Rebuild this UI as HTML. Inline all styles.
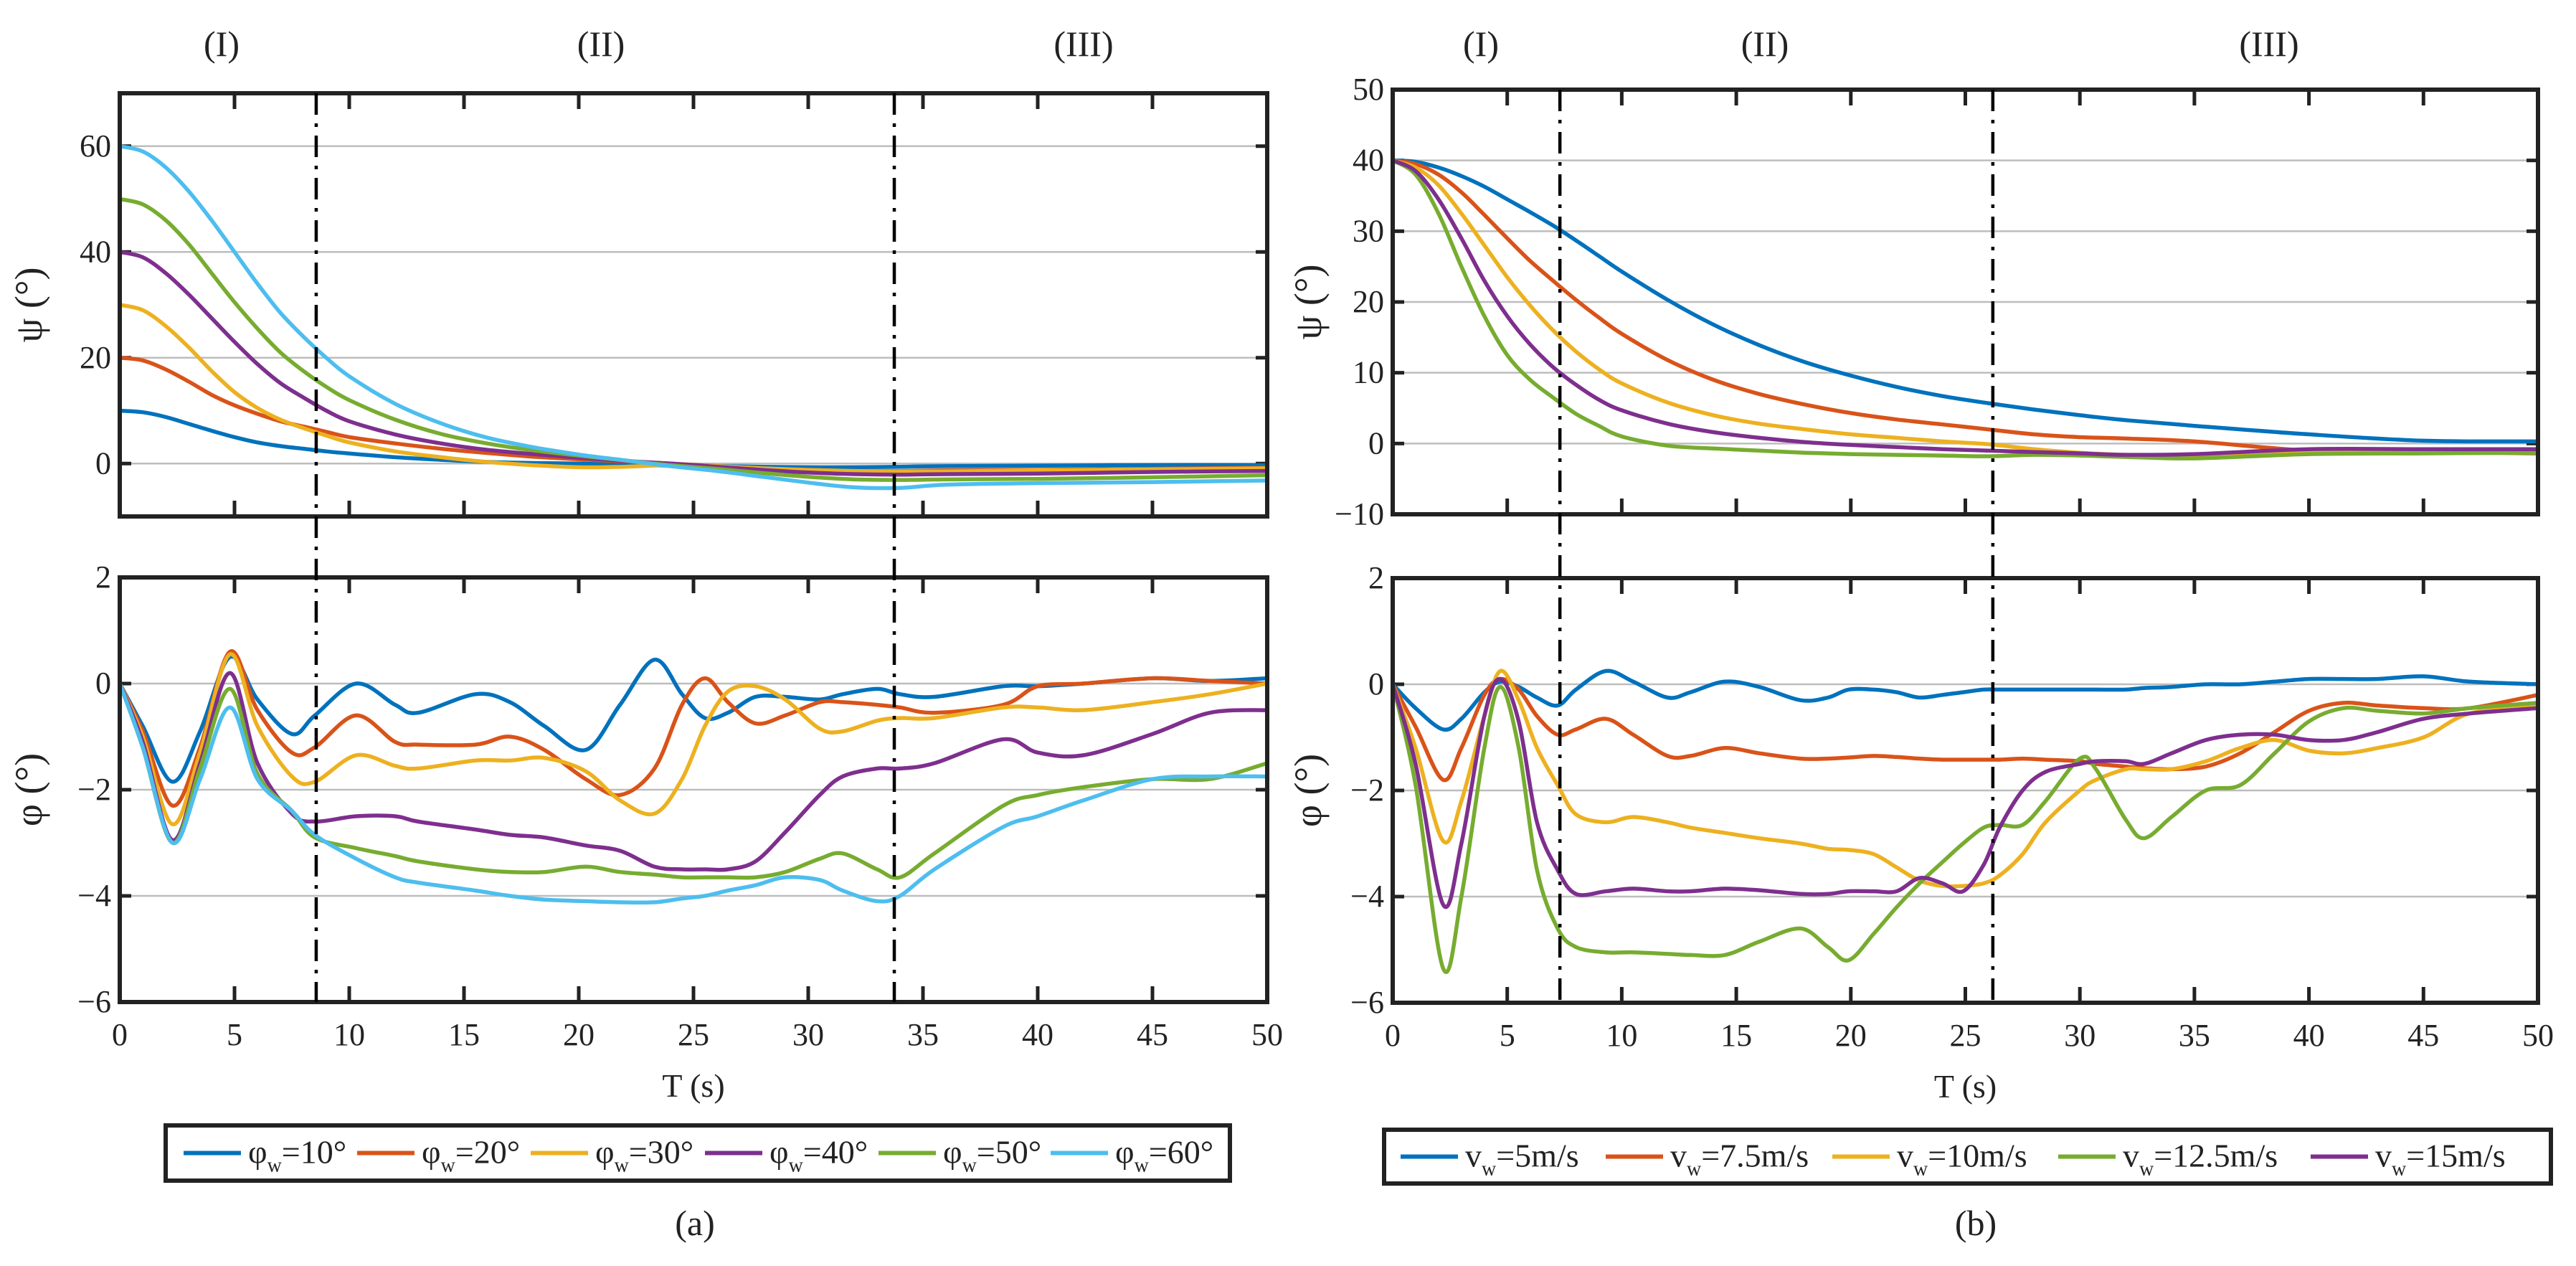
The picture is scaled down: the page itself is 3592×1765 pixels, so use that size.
<!DOCTYPE html>
<html><head><meta charset="utf-8">
<style>
html,body{margin:0;padding:0;background:#fff;}
svg text{font-family:"Liberation Serif",serif;fill:#222;}
</style></head>
<body>
<svg id="fig" width="3592" height="1760" viewBox="0 0 3592 1760" xmlns="http://www.w3.org/2000/svg">
<rect x="0" y="0" width="3592" height="1760" fill="#fff"/>
<g id="root"></g>
</svg>
<script>
const colorsA = ['#0072BD','#D95319','#EDB120','#7E2F8E','#77AC30','#4DBEEE'];
const colorsB = ['#0072BD','#D95319','#EDB120','#77AC30','#7E2F8E'];
const legendA = ['10°','20°','30°','40°','50°','60°'];
const legendB = ['5m/s','7.5m/s','10m/s','12.5m/s','15m/s'];
const xTicks = [0,5,10,15,20,25,30,35,40,45,50];
const psiTicksA = [0,20,40,60];
const psiTicksB = [-10,0,10,20,30,40,50];
const phiTicks = [-6,-4,-2,0,2];
const phasesA = [8.56,33.75];
const phasesB = [7.3,26.2];

const tPsiA = [0,1,2,3,4,5,6,7,8,9,10,12,14,16,18,20,22,24,26,28,30,32,34,36,40,45,50];
const psiA10 = [10,9.7,8.8,7.5,6.2,5,4,3.3,2.8,2.3,1.9,1.2,0.7,0.3,0.1,0,-0.2,-0.4,-0.5,-0.6,-0.7,-0.7,-0.6,-0.5,-0.4,-0.3,-0.3];
const psiA20 = [20,19.5,17.8,15.5,13,11,9.4,8,7,6,5,3.8,2.8,2,1.3,0.8,0.4,0,-0.5,-1,-1.3,-1.4,-1.4,-1.3,-1.2,-1,-0.8];
const psiA30 = [30,29,26,22,17.5,13.5,10.5,8.3,6.7,5.3,4,2.3,1.2,0.3,-0.3,-0.7,-0.6,-0.3,-0.5,-0.9,-1.2,-1.4,-1.5,-1.5,-1.3,-1.1,-0.9];
const psiA40 = [40,39,36,32,27.5,23,18.8,15.2,12.5,10,8,5.5,3.8,2.6,1.8,1.1,0.5,0,-0.6,-1.2,-1.7,-2,-2.1,-2,-1.9,-1.6,-1.4];
const psiA50 = [50,49,46,41.5,36,30.5,25.5,21,17.5,14.5,12,8.3,5.6,3.8,2.5,1.5,0.6,-0.3,-1,-1.8,-2.5,-3,-3.1,-3,-2.9,-2.6,-2.2];
const psiA60 = [60,59,56,51.5,46,40,34,28.5,24,20,16.5,11.3,7.6,4.9,3.1,1.7,0.6,-0.5,-1.4,-2.5,-3.6,-4.5,-4.6,-4.0,-3.7,-3.5,-3.2];

const tPhiA = [0,1,2.3,3.5,4.8,6,7.5,8.5,10.3,12,13,15.5,17,18.5,20.3,21.8,23.3,24.5,25.5,26.5,27.7,29,30.5,31.5,33,34,35.5,38.5,40,42,45,47.5,50];
const phiA10 = [0,-0.8,-1.85,-0.9,0.5,-0.3,-0.95,-0.6,0,-0.4,-0.55,-0.2,-0.35,-0.8,-1.25,-0.4,0.45,-0.2,-0.65,-0.55,-0.25,-0.25,-0.3,-0.2,-0.1,-0.2,-0.25,-0.05,-0.05,0,0.1,0.05,0.1];
const phiA20 = [0,-0.9,-2.3,-1.2,0.6,-0.5,-1.3,-1.2,-0.6,-1.1,-1.15,-1.15,-1.0,-1.25,-1.8,-2.1,-1.6,-0.4,0.1,-0.35,-0.75,-0.6,-0.35,-0.35,-0.4,-0.45,-0.55,-0.4,-0.05,0,0.1,0.05,0];
const phiA30 = [0,-1,-2.65,-1.3,0.55,-0.8,-1.75,-1.85,-1.35,-1.55,-1.6,-1.45,-1.45,-1.4,-1.65,-2.2,-2.45,-1.8,-0.8,-0.15,-0.05,-0.3,-0.85,-0.9,-0.7,-0.65,-0.65,-0.45,-0.45,-0.5,-0.35,-0.2,0];
const phiA40 = [0,-1.1,-2.95,-1.5,0.2,-1.5,-2.45,-2.6,-2.5,-2.5,-2.6,-2.75,-2.85,-2.9,-3.05,-3.15,-3.45,-3.5,-3.5,-3.5,-3.35,-2.8,-2.1,-1.75,-1.6,-1.6,-1.5,-1.05,-1.3,-1.35,-0.95,-0.55,-0.5];
const phiA50 = [0,-1.2,-3.0,-1.6,-0.1,-1.7,-2.4,-2.9,-3.1,-3.25,-3.35,-3.5,-3.55,-3.55,-3.45,-3.55,-3.6,-3.65,-3.65,-3.65,-3.65,-3.55,-3.3,-3.2,-3.5,-3.65,-3.2,-2.3,-2.1,-1.95,-1.8,-1.8,-1.5];
const phiA60 = [0,-1.2,-3.0,-1.8,-0.45,-1.8,-2.4,-2.85,-3.3,-3.65,-3.75,-3.9,-4.0,-4.07,-4.1,-4.12,-4.12,-4.05,-4.0,-3.9,-3.8,-3.65,-3.7,-3.9,-4.1,-4.0,-3.5,-2.7,-2.5,-2.2,-1.8,-1.75,-1.75];

const tPsiB = [0,1,2,3,4,5,6,7,8,9,10,12,14,16,18,20,22,24,26,28,30,32,35,40,45,50];
const psiB5 = [40,39.8,39,37.8,36.3,34.5,32.7,30.8,28.7,26.5,24.3,20.3,16.8,13.9,11.5,9.6,8,6.7,5.7,4.8,4,3.3,2.5,1.3,0.4,0.3];
const psiB75 = [40,39.5,38,35.5,32.3,29,25.8,23,20.3,17.8,15.5,11.8,9,7,5.5,4.3,3.4,2.7,2,1.3,0.9,0.7,0.3,-1,-1.2,-1.4];
const psiB10 = [40,39,36.5,32.5,28,23.5,19.5,16,13,10.5,8.5,5.8,4,2.8,2,1.3,0.8,0.3,-0.1,-0.8,-1.3,-1.6,-1.6,-1.3,-1.2,-1.1];
const psiB125 = [40,38,32.5,25,18,12.5,9,6.5,4.2,2.5,1,-0.3,-0.7,-1,-1.3,-1.5,-1.6,-1.7,-1.8,-1.6,-1.7,-1.9,-2.1,-1.5,-1.4,-1.3];
const psiB15 = [40,38.5,34.5,29,23,18,14,10.8,8.3,6.2,4.7,2.8,1.6,0.8,0.2,-0.2,-0.5,-0.8,-1,-1.2,-1.4,-1.6,-1.5,-0.8,-0.8,-0.8];

const tPhiB = [0,1,2.2,3,4,4.7,5.5,6.3,7.2,8,9.3,10.5,12,13,14.5,16,17.8,19,19.9,21,22,23,24,24.9,25.8,26.5,27.5,28.5,30,30.7,32,32.8,34,35.5,37,38.5,40,41.5,43,45,47,50];
const phiB5 = [0,-0.45,-0.85,-0.65,-0.15,0.05,-0.05,-0.25,-0.4,-0.1,0.25,0.05,-0.25,-0.15,0.05,-0.05,-0.3,-0.25,-0.1,-0.1,-0.15,-0.25,-0.2,-0.15,-0.1,-0.1,-0.1,-0.1,-0.1,-0.1,-0.1,-0.07,-0.05,0,0,0.05,0.1,0.1,0.1,0.15,0.05,0];
const phiB75 = [0,-0.8,-1.8,-1.2,-0.2,0.1,-0.1,-0.6,-0.95,-0.85,-0.65,-0.95,-1.35,-1.35,-1.2,-1.3,-1.4,-1.4,-1.38,-1.35,-1.37,-1.4,-1.42,-1.42,-1.42,-1.42,-1.4,-1.42,-1.45,-1.5,-1.55,-1.58,-1.6,-1.55,-1.3,-0.9,-0.5,-0.35,-0.4,-0.45,-0.45,-0.2];
const phiB10 = [0,-1.2,-2.95,-2.2,-0.6,0.25,-0.3,-1.2,-1.9,-2.45,-2.6,-2.5,-2.6,-2.7,-2.8,-2.9,-3.0,-3.1,-3.12,-3.2,-3.45,-3.7,-3.8,-3.8,-3.75,-3.6,-3.2,-2.6,-2.0,-1.8,-1.6,-1.6,-1.6,-1.45,-1.2,-1.05,-1.25,-1.3,-1.2,-1.0,-0.55,-0.4];
const phiB125 = [0,-1.9,-5.35,-4,-1.2,-0.05,-1.2,-3.5,-4.6,-4.95,-5.05,-5.05,-5.08,-5.1,-5.1,-4.85,-4.6,-4.95,-5.2,-4.7,-4.2,-3.75,-3.35,-3.0,-2.7,-2.65,-2.65,-2.2,-1.4,-1.6,-2.55,-2.9,-2.5,-2.0,-1.9,-1.3,-0.7,-0.45,-0.5,-0.55,-0.45,-0.35];
const phiB15 = [0,-1.5,-4.15,-3,-0.6,0.1,-0.7,-2.6,-3.5,-3.95,-3.9,-3.85,-3.9,-3.9,-3.85,-3.88,-3.95,-3.95,-3.9,-3.9,-3.9,-3.65,-3.75,-3.9,-3.4,-2.7,-2.0,-1.65,-1.5,-1.45,-1.45,-1.5,-1.3,-1.05,-0.95,-0.95,-1.05,-1.05,-0.9,-0.65,-0.55,-0.45];

const NS='http://www.w3.org/2000/svg';
const root=document.getElementById('root');
function mk(tag,attrs,parent){const e=document.createElementNS(NS,tag);for(const k in attrs)e.setAttribute(k,attrs[k]);(parent||root).appendChild(e);return e;}
function smooth(pts){let d='M'+pts[0][0].toFixed(1)+','+pts[0][1].toFixed(1);
 for(let i=0;i<pts.length-1;i++){const p0=pts[Math.max(0,i-1)],p1=pts[i],p2=pts[i+1],p3=pts[Math.min(pts.length-1,i+2)];
 const c1x=p1[0]+(p2[0]-p0[0])/6,c1y=p1[1]+(p2[1]-p0[1])/6,c2x=p2[0]-(p3[0]-p1[0])/6,c2y=p2[1]-(p3[1]-p1[1])/6;
 d+=' C'+c1x.toFixed(1)+','+c1y.toFixed(1)+' '+c2x.toFixed(1)+','+c2y.toFixed(1)+' '+p2[0].toFixed(1)+','+p2[1].toFixed(1);}
 return d;}

function axes(name,L,R,T,B,ymin,ymax,yTicks,showX,ylabel,labelX,series,ts,colors){
 const g=mk('g',{});
 
 
 const sx=v=>L+(v/50)*(R-L), sy=v=>B-(v-ymin)/(ymax-ymin)*(B-T);
 yTicks.forEach(v=>{const y=sy(v);
  if(v>ymin&&v<ymax){const gl=mk('line',{x1:L,x2:R,y1:y,y2:y,stroke:'#bdbdbd','stroke-width':2.5},g);
   
   
   mk('line',{x1:L,x2:L+16,y1:y,y2:y,stroke:'#222','stroke-width':5},g);
   mk('line',{x1:R-16,x2:R,y1:y,y2:y,stroke:'#222','stroke-width':5},g);}
  const tx=mk('text',{x:L-12,y:y+14,'font-size':44,'text-anchor':'end'},g);tx.textContent=(v<0?'\u2212'+(-v):v);
  
  
 });
 xTicks.forEach(v=>{const x=sx(v);
  if(v>0&&v<50){mk('line',{x1:x,x2:x,y1:T,y2:T+22,stroke:'#222','stroke-width':5},g);
   mk('line',{x1:x,x2:x,y1:B-22,y2:B,stroke:'#222','stroke-width':5},g);}
  if(showX){const tx=mk('text',{x:x,y:B+60,'font-size':44,'text-anchor':'middle'},g);tx.textContent=v;
   
   }
 });
 const cp='cp'+name;
 const defs=mk('defs',{},g);const c=mk('clipPath',{id:cp},defs);mk('rect',{x:L,y:T,width:R-L,height:B-T},c);
 series.forEach((s,i)=>{const pts=ts.map((t,j)=>[sx(t),sy(s[j])]);
  const p=mk('path',{d:smooth(pts),fill:'none',stroke:colors[i],'stroke-width':5.5,'stroke-linejoin':'round','clip-path':'url(#'+cp+')'},g);
  
  
 });
 const fr=mk('rect',{x:L,y:T,width:R-L,height:B-T,fill:'none',stroke:'#222','stroke-width':6},g);
 
 
 const yl=mk('text',{x:labelX,y:(T+B)/2,'font-size':54,'text-anchor':'middle',transform:'rotate(-90 '+labelX+' '+(T+B)/2+')'},g);
 yl.textContent=ylabel;
 
 
 if(showX){const xl=mk('text',{x:(L+R)/2,y:B+132,'font-size':46,'text-anchor':'middle'},g);xl.textContent='T (s)';
  
  }
 return sx;
}

function panel(id,L,R,psiT,psiB,psiMin,psiMax,psiTicks,phiT,phiB,psiSeries,tPsi,phiSeries,tPhi,colors,phases,romanX,labelX){
 const sx=axes(id+'-psi-axes',L,R,psiT,psiB,psiMin,psiMax,psiTicks,false,'\u03C8 (\u00B0)',labelX,psiSeries,tPsi,colors);
 axes(id+'-phi-axes',L,R,phiT,phiB,-6,2,phiTicks,true,'\u03C6 (\u00B0)',labelX,phiSeries,tPhi,colors);
 phases.forEach(p=>{const x=sx(p);
  const l=mk('line',{x1:x,x2:x,y1:psiT,y2:phiB,stroke:'#000','stroke-width':4.5,'stroke-dasharray':'30 12 5 12'});
  
  });
 ['(I)','(II)','(III)'].forEach((s,i)=>{const t=mk('text',{x:romanX[i],y:78,'font-size':50,'text-anchor':'middle'});t.textContent=s;
  
  });
}

panel('a',167,1767,130,720,-10,70,psiTicksA,805,1397,[psiA10,psiA20,psiA30,psiA40,psiA50,psiA60],tPsiA,[phiA10,phiA20,phiA30,phiA40,phiA50,phiA60],tPhiA,colorsA,phasesA,[309,838,1511],58);
panel('b',1942,3539,125,717,-10,50,psiTicksB,806,1398,[psiB5,psiB75,psiB10,psiB125,psiB15],tPsiB,[phiB5,phiB75,phiB10,phiB125,phiB15],tPhiB,colorsB,phasesB,[2065,2461,3164],1842);

function legend(name,x0,x1,y0,y1,colors,labels,sym,capX,cap,starts){
 const g=mk('g',{});
 
 
 mk('rect',{x:x0,y:y0,width:x1-x0,height:y1-y0,fill:'#fff',stroke:'#222','stroke-width':6},g);
 const cy=(y0+y1)/2;
 labels.forEach((lb,i)=>{const ex=starts[i];
  const e=mk('g',{},g);
  
  
  mk('line',{x1:ex,x2:ex+80,y1:cy,y2:cy,stroke:colors[i],'stroke-width':6},e);
  const t=mk('text',{x:ex+90,y:cy+14,'font-size':46},e);
  const a=mk('tspan',{},t);a.textContent=sym;
  const b=mk('tspan',{'font-size':28,dy:12},t);b.textContent='w';
  const c=mk('tspan',{dy:-12},t);c.textContent='='+lb;
 });
 const ct=mk('text',{x:capX,y:1722,'font-size':50,'text-anchor':'middle'});ct.textContent=cap;
 
 
}
legend('legend-a',231,1715,1569,1646,colorsA,legendA,'\u03C6',969,'(a)',[256,498,740,983,1225,1465]);
legend('legend-b',1930,3557,1575,1650,colorsB,legendB,'v',2755,'(b)',[1953,2239,2555,2870,3222]);
</script>
</body></html>
